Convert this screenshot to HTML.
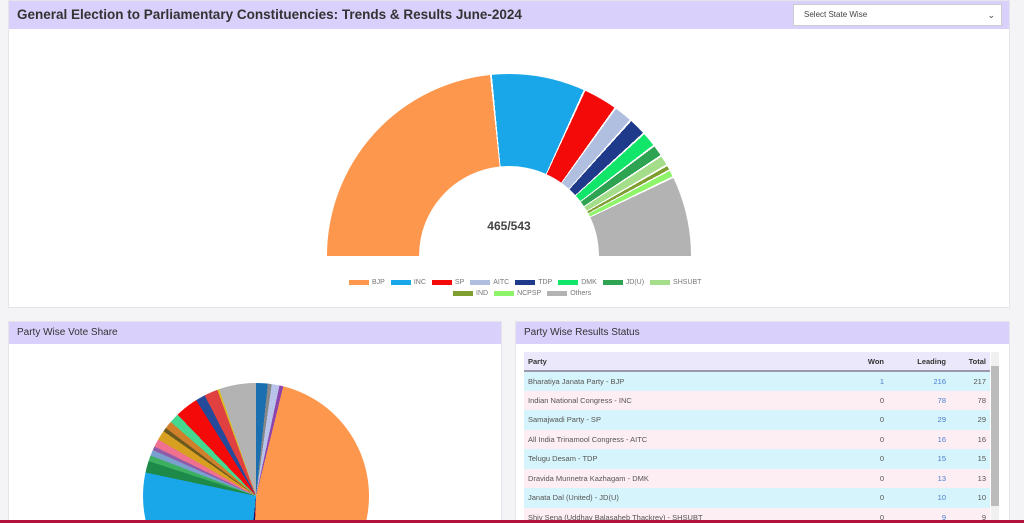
<!DOCTYPE html>
<html><head><meta charset="utf-8"><style>
*{margin:0;padding:0;box-sizing:border-box}
html,body{width:1024px;height:523px;overflow:hidden}
body{background:#f4f4f6;font-family:"Liberation Sans",sans-serif;position:relative}
.card{position:absolute;background:#fff;border:1px solid #e4e4ea;overflow:hidden}
.hdr{background:#d9d0fb;color:#333;font-size:10px;height:22px;line-height:22px;padding-left:8px}
.lg{position:absolute;font-size:7px;color:#777;white-space:nowrap}
.lg span{display:inline-block;width:20px;height:5px;margin:0 3px 0 6px;vertical-align:middle}
table{border-collapse:collapse;font-size:7.5px;color:#555;width:100%}
td,th{height:19.5px;padding:0 4px}
th{text-align:left;background:#ece8fb;color:#333;border-bottom:2px solid #9a9aaa;height:19px}
.r{text-align:right}.b{color:#4a7bd0}
tr.c td{background:#d6f4fb}tr.p td{background:#fdeef4}
</style></head><body>
<div class="card" style="left:8px;top:0;width:1002px;height:308px">
 <div style="background:#d9d0fb;height:28px;line-height:28px;padding-left:8px;font-size:13.5px;font-weight:bold;color:#333">General Election to Parliamentary Constituencies: Trends &amp; Results June-2024</div>
 <div style="position:absolute;left:784px;top:3px;width:209px;height:22px;background:#fff;border:1px solid #ccc;font-size:8px;line-height:20px;padding-left:10px;color:#444">Select State Wise<span style="position:absolute;right:6px;font-size:9px">&#8964;</span></div>
 <div style="position:absolute;left:318px;top:73px;width:364px;height:182px;border-radius:182px 182px 0 0;background:conic-gradient(from 270deg at 50% 100%,#fd974d 0 84deg,#fff 84deg 84.6deg,#1aa7ea 84.6deg 114.2deg,#fff 114.2deg 114.8deg,#f50a0a 114.8deg 125.4deg,#fff 125.4deg 126deg,#b0bfdf 126deg 131.6deg,#fff 131.6deg 132.2deg,#1f3a8a 132.2deg 137.4deg,#fff 137.4deg 138deg,#11e56a 138deg 142.4deg,#fff 142.4deg 143deg,#2ea352 143deg 146.3deg,#fff 146.3deg 146.9deg,#a5de8a 146.9deg 149.8deg,#fff 149.8deg 150.4deg,#7e9f30 150.4deg 151.6deg,#fff 151.6deg 152.1deg,#8ef56a 152.1deg 154deg,#fff 154deg 154.6deg,#b3b3b3 154.6deg 180deg,#fff 180deg)"></div>
 <div style="position:absolute;left:410px;top:165px;width:180px;height:90px;border-radius:90px 90px 0 0;background:#fff"></div>
 <div style="position:absolute;left:440px;top:218px;width:120px;text-align:center;font-size:12px;font-weight:bold;color:#444">465/543</div>
 <div class="lg" style="left:334px;top:278px"><span style="background:#fd974d"></span>BJP<span style="background:#1aa7ea"></span>INC<span style="background:#f50a0a"></span>SP<span style="background:#b0bfdf"></span>AITC<span style="background:#1f3a8a"></span>TDP<span style="background:#11e56a"></span>DMK<span style="background:#2ea352"></span>JD(U)<span style="background:#a5de8a"></span>SHSUBT</div>
 <div class="lg" style="left:438px;top:289px"><span style="background:#7e9f30"></span>IND<span style="background:#8ef56a"></span>NCPSP<span style="background:#b3b3b3"></span>Others</div>
</div>
<div class="card" style="left:8px;top:321px;width:494px;height:199px;border-bottom:0">
 <div class="hdr">Party Wise Vote Share</div>
 <div style="position:absolute;left:134px;top:61px;width:226px;height:138px;overflow:hidden">
 <div style="width:226px;height:226px;border-radius:50%;background:conic-gradient(#1a6fb0 0 6deg,#888 6deg 8deg,#b9c3ea 8deg 12deg,#8e44ad 12deg 14deg,#fd974d 14deg 182deg,#d11 182deg 183deg,#14146e 183deg 186deg,#1aa7ea 186deg 282deg,#1e8a4a 282deg 288deg,#3cb060 288deg 291deg,#7aa0d0 291deg 294deg,#8e5ca8 294deg 296deg,#f07090 296deg 300deg,#d8a020 300deg 305deg,#6b5a20 305deg 307deg,#d0802a 307deg 311deg,#44d890 311deg 316deg,#f50a0a 316deg 328deg,#254a9a 328deg 333deg,#e04040 333deg 340deg,#d8c020 340deg 341deg,#b3b3b3 341deg 360deg)"></div></div>
</div>
<div class="card" style="left:515px;top:321px;width:495px;height:199px;border-bottom:0">
 <div class="hdr">Party Wise Results Status</div>
 <div style="position:absolute;left:8px;top:30px;width:466px;height:169px;overflow:hidden">
 <table>
 <tr><th>Party</th><th class="r">Won</th><th class="r" style="width:62px">Leading</th><th class="r" style="width:40px">Total</th></tr>
 <tr class="c"><td>Bharatiya Janata Party - BJP</td><td class="r b">1</td><td class="r b">216</td><td class="r">217</td></tr>
 <tr class="p"><td>Indian National Congress - INC</td><td class="r">0</td><td class="r b">78</td><td class="r">78</td></tr>
 <tr class="c"><td>Samajwadi Party - SP</td><td class="r">0</td><td class="r b">29</td><td class="r">29</td></tr>
 <tr class="p"><td>All India Trinamool Congress - AITC</td><td class="r">0</td><td class="r b">16</td><td class="r">16</td></tr>
 <tr class="c"><td>Telugu Desam - TDP</td><td class="r">0</td><td class="r b">15</td><td class="r">15</td></tr>
 <tr class="p"><td>Dravida Munnetra Kazhagam - DMK</td><td class="r">0</td><td class="r b">13</td><td class="r">13</td></tr>
 <tr class="c"><td>Janata Dal (United) - JD(U)</td><td class="r">0</td><td class="r b">10</td><td class="r">10</td></tr>
 <tr class="p"><td>Shiv Sena (Uddhav Balasaheb Thackrey) - SHSUBT</td><td class="r">0</td><td class="r b">9</td><td class="r">9</td></tr>
 </table></div>
 <div style="position:absolute;left:475px;top:30px;width:8px;height:169px;background:#f0f0f0"></div>
 <div style="position:absolute;left:475px;top:44px;width:8px;height:140px;background:#bbb"></div>
</div>
<div style="position:absolute;left:0;top:520px;width:1024px;height:3px;background:#b3123c"></div>
</body></html>
